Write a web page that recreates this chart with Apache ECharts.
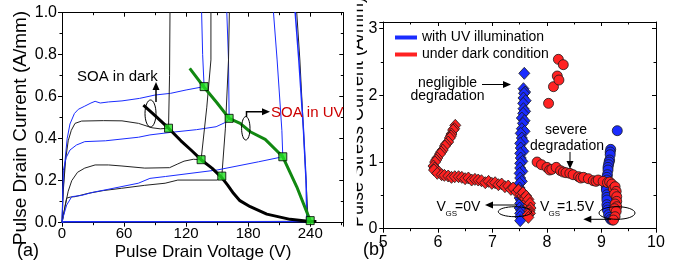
<!DOCTYPE html>
<html>
<head>
<meta charset="utf-8">
<script src="https://cdn.jsdelivr.net/npm/echarts@6/dist/echarts.min.js"></script>
<style>
html, body { margin: 0; padding: 0; background: #fff; }
#chart { width: 678px; height: 262px; }
</style>
</head>
<body>
<div id="chart"></div>
<script>
// ---- panel (a): pulsed output curves [V, A/mm] ----
var voltTicks = [0, 60, 120, 180, 240];
var uvCurve1 = [[0,0],[1,0.15],[3,0.3],[5,0.4],[7.7,0.47],[12,0.52],[15.8,0.54],[22,0.555],[28,0.57],[32,0.578],[37,0.57],[45,0.575],[58,0.58],[75,0.592],[90,0.608],[105,0.616],[120,0.632],[137.4,0.648],[136,0.8],[135,1.0],[134.8,1.05]];
var darkCurve1 = [[0,0],[1.3,0.156],[3.5,0.3],[6,0.39],[9,0.44],[12.6,0.473],[19,0.484],[40,0.486],[58,0.485],[74,0.473],[87,0.452],[95,0.447],[103,0.45],[104,0.7],[104.5,1.05]];
var uvCurve2 = [[0,0],[1.3,0.25],[4,0.31],[7.7,0.346],[14,0.37],[22,0.386],[42,0.39],[74,0.407],[85,0.418],[105,0.43],[130,0.443],[149,0.457],[159,0.48],[161.6,0.497],[161,0.775],[159,1.05]];
var darkCurve2 = [[0,0],[1,0.03],[2.9,0.076],[6,0.15],[9.4,0.2],[15,0.24],[22,0.26],[32,0.275],[45,0.275],[58,0.27],[80,0.26],[104,0.262],[112,0.28],[118,0.293],[127,0.302],[134.5,0.30],[140,0.55],[144,0.775],[144,1.05]];
var darkCurve3 = [[0,0],[1.3,0.03],[3,0.08],[4.5,0.117],[8,0.122],[12.6,0.124],[25.5,0.14],[40,0.153],[57.8,0.164],[80,0.178],[99.7,0.188],[112,0.203],[150,0.203],[154.5,0.22],[158,0.45],[161,0.775],[162,1.05]];
var uvCurve3 = [[0,0],[1.3,0.03],[4.5,0.084],[9.4,0.124],[19,0.13],[30,0.145],[41.6,0.156],[73.8,0.188],[85,0.211],[100,0.22],[150,0.251],[190,0.29],[213.5,0.314],[212.6,0.44],[208,0.775],[204.5,1.0],[204,1.05]];
var darkCurve4 = [[0,0],[2,0.004],[100,0.005],[200,0.006],[238,0.007],[236,0.2],[233.5,0.44],[230,0.775],[227,1.0],[226.8,1.05]];
var uvCurve4 = [[0,0],[2,0.005],[236.8,0.006],[236,0.2],[233.5,0.44],[229,0.775],[225.5,1.0],[225,1.05]];
var soaDark = [[78.7,0.56],[90,0.51],[103,0.45],[115,0.39],[125,0.345],[134.5,0.30],[145,0.26],[154.5,0.215],[160,0.18],[165.8,0.14],[172,0.105],[182,0.076],[198,0.041],[220.6,0.016],[240,0.006],[246,0.006]];
var soaUV = [[123.5,0.735],[137.4,0.645],[150,0.57],[161.6,0.497],[172.3,0.473],[182,0.433],[196.5,0.397],[213.5,0.314],[227,0.171],[240,0.01]];
var soaPoints = [[103,0.45],[134.5,0.30],[154.5,0.222],[137.4,0.648],[161.6,0.497],[213.5,0.314],[240,0.01]];

// ---- panel (b): stress points, y = pulse stress current (A/mm) ----
var dark0V = [[6.32,1.55],[6.30,1.50],[6.28,1.48],[6.25,1.42],[6.24,1.39],[6.22,1.36],[6.19,1.30],[6.15,1.27],[6.13,1.24],[6.09,1.18],[6.06,1.15],[6.04,1.12],[5.99,1.06],[5.97,1.03],[5.95,1.00],[5.92,0.94],[5.94,0.91],[5.93,0.88],[6.02,0.85],[5.99,0.83],[6.07,0.81],[6.12,0.80],[6.19,0.79],[6.25,0.77],[6.31,0.78],[6.38,0.78],[6.44,0.77],[6.50,0.75],[6.56,0.76],[6.62,0.73],[6.68,0.74],[6.74,0.73],[6.80,0.72],[6.87,0.69],[6.93,0.71],[6.99,0.68],[7.05,0.69],[7.11,0.66],[7.17,0.67],[7.23,0.63],[7.29,0.64],[7.34,0.59],[7.38,0.61],[7.44,0.55],[7.48,0.58],[7.52,0.51],[7.55,0.49],[7.56,0.54],[7.58,0.46],[7.60,0.45],[7.62,0.49],[7.64,0.41],[7.66,0.44],[7.67,0.35],[7.69,0.38],[7.70,0.31],[7.68,0.27],[7.69,0.23],[7.65,0.21],[7.66,0.17]];
var uv0V = [[7.585,2.33],[7.57,2.10],[7.60,2.05],[7.58,2.03],[7.57,1.96],[7.61,1.92],[7.565,1.88],[7.57,1.80],[7.60,1.76],[7.565,1.73],[7.54,1.66],[7.59,1.62],[7.56,1.58],[7.54,1.50],[7.59,1.46],[7.52,1.43],[7.54,1.36],[7.57,1.31],[7.51,1.28],[7.52,1.21],[7.57,1.16],[7.51,1.13],[7.52,1.06],[7.55,1.01],[7.51,0.98],[7.51,0.91],[7.55,0.86],[7.50,0.83],[7.51,0.76],[7.54,0.71],[7.50,0.68],[7.50,0.61],[7.53,0.56],[7.51,0.53],[7.50,0.46],[7.53,0.42],[7.51,0.38],[7.50,0.31],[7.53,0.27],[7.51,0.23],[7.51,0.18],[7.51,0.12]];
var dark15V = [[8.03,1.88],[8.12,2.13],[8.19,2.29],[8.22,2.23],[8.21,2.54],[8.30,2.46],[7.82,1.00],[7.90,0.96],[8.00,0.92],[8.05,0.88],[8.09,0.89],[8.17,0.92],[8.25,0.87],[8.30,0.85],[8.35,0.84],[8.42,0.83],[8.48,0.81],[8.58,0.78],[8.62,0.76],[8.67,0.77],[8.76,0.75],[8.85,0.72],[8.90,0.71],[8.94,0.73],[9.03,0.71],[9.11,0.69],[9.15,0.70],[9.19,0.67],[9.22,0.60],[9.25,0.63],[9.27,0.56],[9.24,0.52],[9.28,0.48],[9.28,0.41],[9.25,0.37],[9.28,0.33],[9.24,0.30],[9.27,0.26],[9.25,0.18],[9.22,0.13]];
var uv15V = [[9.29,1.47],[9.17,1.19],[9.16,1.15],[9.16,1.11],[9.15,1.03],[9.14,1.00],[9.13,0.96],[9.12,0.92],[9.12,0.88],[9.11,0.81],[9.10,0.77],[9.10,0.73],[9.10,0.66],[9.09,0.62],[9.09,0.58],[9.10,0.51],[9.10,0.47],[9.10,0.43],[9.10,0.36],[9.11,0.32],[9.11,0.28],[9.13,0.21],[9.15,0.17],[9.17,0.14],[9.20,0.13]];

var FONT = 'Liberation Sans, Arial, sans-serif';
var BLUE = '#1a2cff';
var RED = '#ff2222';

function curve(data, color, width, z) {
    return {type: 'line', xAxisIndex: 0, yAxisIndex: 0, data: data, symbol: 'none', showSymbol: false,
        lineStyle: {color: color, width: width}, itemStyle: {color: color}, z: z, silent: true, animation: false};
}
function dots(name, data, symbol, size, color, z) {
    return {name: name, type: 'scatter', xAxisIndex: 2, yAxisIndex: 2, data: data, symbol: symbol, symbolSize: size,
        itemStyle: {color: color, borderColor: '#1a1a1a', borderWidth: 0.8, opacity: 1}, z: z, silent: true, animation: false};
}
function axisBase(extra) {
    var a = {type: 'value', axisLine: {show: true, onZero: false, lineStyle: {color: '#000', width: 1}},
        axisTick: {show: true, inside: false, length: 4, lineStyle: {color: '#000'}},
        minorTick: {show: true, splitNumber: 2, length: 2.5, lineStyle: {color: '#000'}},
        splitLine: {show: false}, minorSplitLine: {show: false},
        axisLabel: {show: true, color: '#000', fontFamily: FONT, fontSize: 15}};
    for (var k in extra) a[k] = extra[k];
    return a;
}
function arrowHead(x, y, dir) { // tip at x,y
    var p;
    if (dir === 'up') p = [[x, y], [x - 3.5, y + 8], [x + 3.5, y + 8]];
    else if (dir === 'down') p = [[x, y], [x - 3.5, y - 8], [x + 3.5, y - 8]];
    else if (dir === 'right') p = [[x, y], [x - 8, y - 3.5], [x - 8, y + 3.5]];
    else p = [[x, y], [x + 8, y - 3.5], [x + 8, y + 3.5]];
    return {type: 'polygon', shape: {points: p}, style: {fill: '#000'}, z: 50};
}
function seg(pts, w) {
    return {type: 'polyline', shape: {points: pts}, style: {stroke: '#000', lineWidth: w || 1, fill: null}, z: 50};
}
function ell(cx, cy, rx, ry) {
    return {type: 'ellipse', shape: {cx: cx, cy: cy, rx: rx, ry: ry}, style: {stroke: '#000', lineWidth: 1, fill: null}, z: 50};
}
function txt(x, y, s, size, color, align, rot) {
    return {type: 'text', x: x, y: y, rotation: rot || 0, z: 60,
        style: {text: s, fill: color || '#000', font: size + 'px ' + FONT, textAlign: align || 'left', textVerticalAlign: 'middle'}};
}

var chart = echarts.init(document.getElementById('chart'), null, {renderer: 'canvas'});
var option = {
    animation: false,
    backgroundColor: '#fff',
    grid: [
        {left: 62, top: 12.7, width: 281.3, height: 210, show: false},
        {left: 383.3, top: 22, width: 272.7, height: 206.7, show: false}
    ],
    legend: {
        data: ['with UV illumination', 'under dark condition'],
        orient: 'vertical', left: 390, top: 25, itemGap: 2,
        icon: 'rect', itemWidth: 22, itemHeight: 4,
        itemStyle: {borderWidth: 0},
        textStyle: {fontFamily: FONT, fontSize: 14, color: '#000', lineHeight: 15},
        selectedMode: false
    },
    xAxis: [
        axisBase({gridIndex: 0, position: 'bottom', min: 0, max: 272, interval: 60,
            axisLabel: {color: '#000', fontFamily: FONT, fontSize: 15, margin: 4,
                formatter: function (v) { return voltTicks.indexOf(v) >= 0 ? String(v) : ''; }}}),
        axisBase({gridIndex: 0, position: 'top', min: 0, max: 272, interval: 60,
            axisTick: {show: true, inside: true, length: 4, lineStyle: {color: '#000'}}, axisLabel: {show: false}}),
        axisBase({gridIndex: 1, position: 'bottom', min: 5, max: 10, interval: 1,
            axisLabel: {color: '#000', fontFamily: FONT, fontSize: 16, margin: 6}}),
        axisBase({gridIndex: 1, position: 'top', min: 5, max: 10, interval: 1,
            axisTick: {show: true, inside: true, length: 4, lineStyle: {color: '#000'}}, axisLabel: {show: false}})
    ],
    yAxis: [
        axisBase({gridIndex: 0, position: 'left', min: 0, max: 1, interval: 0.2,
            axisLabel: {color: '#000', fontFamily: FONT, fontSize: 16, margin: 5,
                formatter: function (v) { return v.toFixed(1); }}}),
        axisBase({gridIndex: 0, position: 'right', min: 0, max: 1, interval: 0.2,
            axisTick: {show: true, inside: true, length: 4, lineStyle: {color: '#000'}}, axisLabel: {show: false}}),
        axisBase({gridIndex: 1, position: 'left', min: 0, max: 3.1, interval: 1,
            axisLabel: {color: '#000', fontFamily: FONT, fontSize: 16, margin: 6,
                formatter: function (v) { return Number.isInteger(v) ? String(v) : ''; }}}),
        axisBase({gridIndex: 1, position: 'right', min: 0, max: 3.1, interval: 1,
            axisTick: {show: true, inside: true, length: 4, lineStyle: {color: '#000'}}, axisLabel: {show: false}})
    ],
    series: [
        curve(uvCurve1, BLUE, 1, 2),
        curve(darkCurve1, '#222', 1, 2),
        curve(uvCurve2, BLUE, 1, 2),
        curve(darkCurve2, '#222', 1, 2),
        curve(darkCurve3, '#222', 1, 2),
        curve(uvCurve3, BLUE, 1, 2),
        curve(darkCurve4, '#222', 1, 2),
        curve(uvCurve4, BLUE, 1.5, 2),
        curve(soaDark, '#000', 3, 3),
        curve(soaUV, '#118811', 3, 3),
        {type: 'scatter', xAxisIndex: 0, yAxisIndex: 0, data: soaPoints, symbol: 'rect', symbolSize: 8,
            itemStyle: {color: '#22e022', borderColor: '#000', borderWidth: 1}, z: 4, silent: true},
        dots('with UV illumination', uv0V, 'diamond', [11, 12], BLUE, 3),
        dots('under dark condition', dark0V, 'diamond', [11, 12], RED, 4),
        dots('with UV illumination', uv15V, 'circle', 10, BLUE, 3),
        dots('under dark condition', dark15V, 'circle', 10, RED, 4)
    ],
    graphic: [
        // axis titles
        txt(21, 128, 'Pulse Drain Current (A/mm)', 19, '#000', 'center', Math.PI / 2),
        txt(203, 252, 'Pulse Drain Voltage (V)', 17, '#000', 'center'),
        txt(17, 251, '(a)', 18, '#000', 'left'),
        txt(358.5, 112, 'Pulse Stress Current (A/mm)', 18, '#000', 'center', Math.PI / 2),
        {type: 'rect', shape: {x: 345, y: 0, width: 11.8, height: 240}, style: {fill: '#fff'}, z: 70},
        txt(363, 250, '(b)', 18, '#000', 'left'),
        // panel (a) notes
        txt(77, 77, 'SOA in dark', 15, '#000', 'left'),
        ell(150.5, 113.5, 5.5, 13.5),
        seg([[156, 102], [156, 88]], 1.5),
        arrowHead(156, 82, 'up'),
        txt(271, 113, 'SOA in UV', 15, '#cc0000', 'left'),
        ell(245.8, 128.3, 4.2, 11.7),
        seg([[246.5, 117], [246.5, 111.7], [263, 111.7]], 1.5),
        arrowHead(270, 111.7, 'right'),
        // panel (b) notes
        txt(447.5, 83, 'negligible', 14, '#000', 'center'),
        txt(447.5, 96, 'degradation', 14, '#000', 'center'),
        seg([[482, 84.5], [504, 84.5]]),
        arrowHead(511, 84.5, 'right'),
        txt(566, 130, 'severe', 14, '#000', 'center'),
        txt(567, 146, 'degradation', 14, '#000', 'center'),
        seg([[570, 152], [570, 162]]),
        arrowHead(570, 169, 'down'),
        txt(436.5, 207.5, 'V', 14, '#000', 'left'),
        txt(445.5, 213.5, 'GS', 8, '#000', 'left'),
        txt(455, 207.5, '=0V', 14, '#000', 'left'),
        seg([[492, 205], [517, 205]]),
        arrowHead(485, 205, 'left'),
        ell(515, 211.7, 16.7, 5),
        txt(540, 207.5, 'V', 14, '#000', 'left'),
        txt(548.5, 213.5, 'GS', 8, '#000', 'left'),
        txt(557, 207.5, '=1.5V', 14, '#000', 'left'),
        seg([[590, 219.3], [611, 219.3]]),
        arrowHead(583.3, 219.3, 'left'),
        ell(617, 213, 18, 6.3)
    ]
};
chart.setOption(option);
</script>
</body>
</html>
